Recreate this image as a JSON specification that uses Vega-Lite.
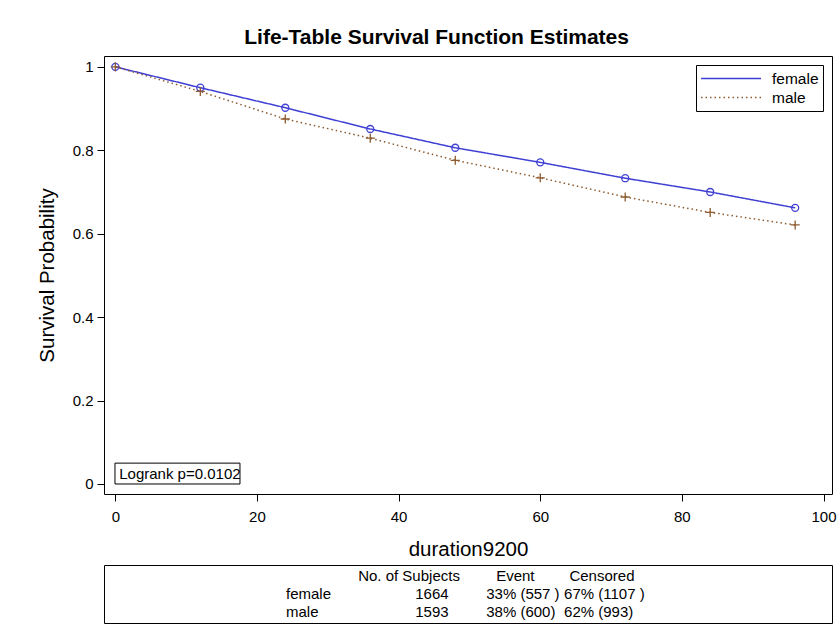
{
  "$schema": "https://vega.github.io/schema/vega-lite/v6.json",
  "background": "white",
  "padding": {"left": 36, "top": 26, "right": 0, "bottom": 0},
  "title": {"text": "Life-Table Survival Function Estimates", "fontSize": 21, "fontWeight": "bold", "anchor": "middle", "offset": 8, "color": "black"},
  "datasets": {
    "surv": [
      {"sex": "female", "t": 0, "s": 1.0},
      {"sex": "female", "t": 12, "s": 0.95},
      {"sex": "female", "t": 24, "s": 0.902},
      {"sex": "female", "t": 36, "s": 0.851},
      {"sex": "female", "t": 48, "s": 0.806},
      {"sex": "female", "t": 60, "s": 0.771},
      {"sex": "female", "t": 72, "s": 0.733},
      {"sex": "female", "t": 84, "s": 0.7},
      {"sex": "female", "t": 96, "s": 0.662},
      {"sex": "male", "t": 0, "s": 1.0},
      {"sex": "male", "t": 12, "s": 0.941},
      {"sex": "male", "t": 24, "s": 0.875},
      {"sex": "male", "t": 36, "s": 0.829},
      {"sex": "male", "t": 48, "s": 0.776},
      {"sex": "male", "t": 60, "s": 0.734},
      {"sex": "male", "t": 72, "s": 0.688},
      {"sex": "male", "t": 84, "s": 0.651},
      {"sex": "male", "t": 96, "s": 0.621}
    ],
    "note": [{"label": "Logrank p=0.0102"}],
    "tbl": [
      {"row": "header", "label": "", "subj": "No. of Subjects", "event": "Event", "cens": "Censored"},
      {"row": "female", "label": "female", "subj": "1664", "event": "33% (557 )", "cens": "67% (1107 )"},
      {"row": "male", "label": "male", "subj": "1593", "event": "38% (600)", "cens": "62% (993)"}
    ]
  },
  "spacing": 4,
  "vconcat": [
    {
      "width": 728,
      "height": 438,
      "layer": [
        {
          "data": {"name": "note"},
          "mark": {"type": "rect", "fill": "white", "stroke": "black", "strokeWidth": 1},
          "encoding": {
            "x": {"datum": -0.05, "type": "quantitative", "scale": {"domain": [-1.6, 101.2], "nice": false, "zero": false}, "title": "duration9200"},
            "x2": {"datum": 17.6},
            "y": {"datum": 0, "type": "quantitative", "scale": {"domain": [-0.024, 1.026], "nice": false, "zero": false}, "title": "Survival Probability"},
            "y2": {"datum": 0.05}
          }
        },
        {
          "data": {"name": "note"},
          "mark": {"type": "text", "align": "left", "baseline": "middle", "fontSize": 15, "color": "black"},
          "encoding": {
            "x": {"datum": 0.55, "type": "quantitative", "scale": {"domain": [-1.6, 101.2], "nice": false, "zero": false}, "title": "duration9200"},
            "y": {"datum": 0.025, "type": "quantitative", "scale": {"domain": [-0.024, 1.026], "nice": false, "zero": false}, "title": "Survival Probability"},
            "text": {"field": "label"}
          }
        },
        {
          "data": {"name": "surv"},
          "mark": {"type": "line", "strokeWidth": 1.5},
          "encoding": {
            "x": {"field": "t", "type": "quantitative", "scale": {"domain": [-1.6, 101.2], "nice": false, "zero": false}, "title": "duration9200",
                  "axis": {"values": [0, 20, 40, 60, 80, 100], "labelPadding": 8, "titlePadding": 15}},
            "y": {"field": "s", "type": "quantitative", "scale": {"domain": [-0.024, 1.026], "nice": false, "zero": false}, "title": "Survival Probability",
                  "axis": {"values": [0, 0.2, 0.4, 0.6, 0.8, 1], "format": ".1~f", "labelPadding": 4, "titlePadding": 15}},
            "color": {"field": "sex", "type": "nominal", "scale": {"domain": ["female", "male"], "range": ["#3F3FD4", "#8C5A2E"]},
              "legend": {
                "title": null, "orient": "top-right", "offset": 9, "padding": 4,
                "strokeColor": "black", "fillColor": "white", "symbolType": "stroke",
                "symbolSize": 3600, "clipHeight": 19, "labelOffset": 10, "rowPadding": 0,
                "labelFontSize": 15.5, "labelColor": "black", "symbolStrokeWidth": 1.5
              }},
            "strokeDash": {"field": "sex", "type": "nominal", "scale": {"domain": ["female", "male"], "range": [[1, 0], [1.5, 3]]},
              "legend": {
                "title": null, "orient": "top-right", "offset": 9, "padding": 4,
                "strokeColor": "black", "fillColor": "white", "symbolType": "stroke",
                "symbolSize": 3600, "clipHeight": 19, "labelOffset": 10, "rowPadding": 0,
                "labelFontSize": 15.5, "labelColor": "black", "symbolStrokeWidth": 1.5
              }}
          }
        },
        {
          "data": {"name": "surv"},
          "transform": [{"filter": "datum.sex === 'female'"}],
          "mark": {"type": "point", "shape": "circle", "filled": false, "size": 49, "strokeWidth": 1.3, "opacity": 1, "color": "#3F3FD4"},
          "encoding": {
            "x": {"field": "t", "type": "quantitative", "scale": {"domain": [-1.6, 101.2], "nice": false, "zero": false}, "title": "duration9200"},
            "y": {"field": "s", "type": "quantitative", "scale": {"domain": [-0.024, 1.026], "nice": false, "zero": false}, "title": "Survival Probability"}
          }
        },
        {
          "data": {"name": "surv"},
          "transform": [{"filter": "datum.sex === 'male'"}],
          "mark": {"type": "point", "shape": "M-1.3,0L1.3,0M0,-1.3L0,1.3", "filled": false, "size": 49, "strokeWidth": 1.3, "opacity": 1, "color": "#8C5A2E"},
          "encoding": {
            "x": {"field": "t", "type": "quantitative", "scale": {"domain": [-1.6, 101.2], "nice": false, "zero": false}, "title": "duration9200"},
            "y": {"field": "s", "type": "quantitative", "scale": {"domain": [-0.024, 1.026], "nice": false, "zero": false}, "title": "Survival Probability"}
          }
        }
      ]
    },
    {
      "width": 728,
      "height": 58,
      "data": {"name": "tbl"},
      "encoding": {
        "y": {"field": "row", "type": "nominal", "scale": {"type": "point", "domain": ["header", "female", "male"], "padding": 0.62}, "axis": null}
      },
      "layer": [
        {
          "transform": [{"filter": "datum.row !== 'header'"}],
          "mark": {"type": "text", "align": "left", "baseline": "middle", "fontSize": 15, "color": "black"},
          "encoding": {"x": {"datum": 25.0, "type": "quantitative", "scale": {"domain": [0, 100], "nice": false}, "axis": null}, "text": {"field": "label"}}
        },
        {
          "transform": [{"filter": "datum.row !== 'header'"}],
          "mark": {"type": "text", "align": "center", "baseline": "middle", "fontSize": 15, "color": "black"},
          "encoding": {"x": {"datum": 45.05, "type": "quantitative", "scale": {"domain": [0, 100], "nice": false}, "axis": null}, "text": {"field": "subj"}}
        },
        {
          "transform": [{"filter": "datum.row !== 'header'"}],
          "mark": {"type": "text", "align": "left", "baseline": "middle", "fontSize": 15, "color": "black"},
          "encoding": {"x": {"datum": 52.5, "type": "quantitative", "scale": {"domain": [0, 100], "nice": false}, "axis": null}, "text": {"field": "event"}}
        },
        {
          "transform": [{"filter": "datum.row !== 'header'"}],
          "mark": {"type": "text", "align": "left", "baseline": "middle", "fontSize": 15, "color": "black"},
          "encoding": {"x": {"datum": 63.2, "type": "quantitative", "scale": {"domain": [0, 100], "nice": false}, "axis": null}, "text": {"field": "cens"}}
        },
        {
          "transform": [{"filter": "datum.row === 'header'"}],
          "mark": {"type": "text", "align": "center", "baseline": "middle", "fontSize": 15, "color": "black"},
          "encoding": {"x": {"datum": 41.9, "type": "quantitative", "scale": {"domain": [0, 100], "nice": false}, "axis": null}, "text": {"field": "subj"}}
        },
        {
          "transform": [{"filter": "datum.row === 'header'"}],
          "mark": {"type": "text", "align": "center", "baseline": "middle", "fontSize": 15, "color": "black"},
          "encoding": {"x": {"datum": 56.5, "type": "quantitative", "scale": {"domain": [0, 100], "nice": false}, "axis": null}, "text": {"field": "event"}}
        },
        {
          "transform": [{"filter": "datum.row === 'header'"}],
          "mark": {"type": "text", "align": "center", "baseline": "middle", "fontSize": 15, "color": "black"},
          "encoding": {"x": {"datum": 68.4, "type": "quantitative", "scale": {"domain": [0, 100], "nice": false}, "axis": null}, "text": {"field": "cens"}}
        }
      ]
    }
  ],
  "config": {
    "font": "Liberation Sans",
    "view": {"stroke": "black", "strokeWidth": 1},
    "axis": {
      "grid": false, "domain": false,
      "tickColor": "black", "tickSize": 7, "tickWidth": 1,
      "labelColor": "black", "labelFontSize": 15,
      "titleColor": "black", "titleFontSize": 20.5, "titleFontWeight": "normal"
    },
    "text": {"color": "black"}
  }
}
